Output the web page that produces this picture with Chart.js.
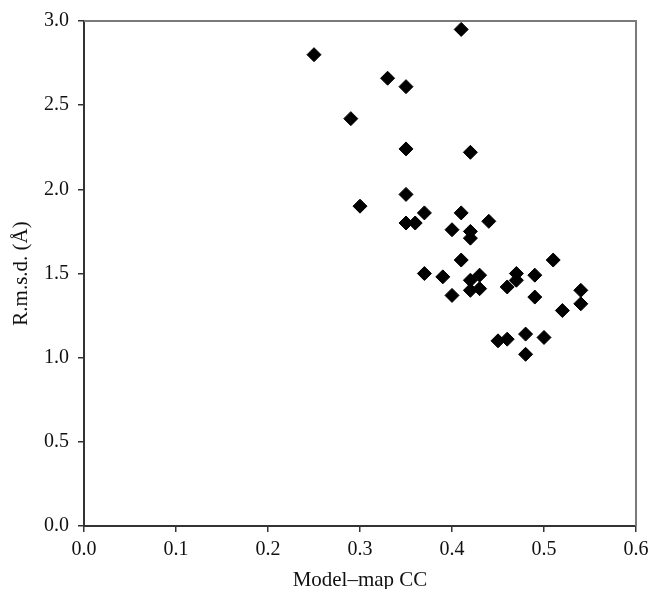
<!DOCTYPE html>
<html>
<head>
<meta charset="utf-8">
<script src="https://cdn.jsdelivr.net/npm/chart.js@4.4.1/dist/chart.umd.min.js"></script>
<style>
  html, body { margin: 0; padding: 0; background: #fff; }
  canvas { display: block; }
</style>
</head>
<body>
<canvas id="chart" width="649" height="589"></canvas>
<script>
// model-map correlation vs r.m.s.d.
const ccValues = [
  0.25, 0.41, 0.33, 0.35, 0.29, 0.35, 0.42, 0.35, 0.30, 0.37,
  0.35, 0.36, 0.41, 0.44, 0.40, 0.42, 0.42, 0.41, 0.37, 0.39,
  0.43, 0.42, 0.42, 0.43, 0.40, 0.47, 0.47, 0.46, 0.49, 0.51,
  0.49, 0.54, 0.54, 0.52, 0.45, 0.46, 0.48, 0.50, 0.48
];
const rmsdValues = [
  2.80, 2.95, 2.66, 2.61, 2.42, 2.24, 2.22, 1.97, 1.90, 1.86,
  1.80, 1.80, 1.86, 1.81, 1.76, 1.75, 1.71, 1.58, 1.50, 1.48,
  1.49, 1.46, 1.40, 1.41, 1.37, 1.50, 1.46, 1.42, 1.49, 1.58,
  1.36, 1.40, 1.32, 1.28, 1.10, 1.11, 1.14, 1.12, 1.02
];
const xTicks = [0, 0.1, 0.2, 0.3, 0.4, 0.5, 0.6];
const yTicks = [0, 0.5, 1.0, 1.5, 2.0, 2.5, 3.0];

const points = ccValues.map((x, i) => ({ x: x, y: rmsdValues[i] }));

const serif = "'Liberation Serif', 'Times New Roman', serif";

// grey frame on top and right like the original figure
const framePlugin = {
  id: "frame",
  afterDraw(chart) {
    const { ctx, chartArea } = chart;
    ctx.save();
    ctx.strokeStyle = "#7a7a7a";
    ctx.lineWidth = 2;
    ctx.beginPath();
    ctx.moveTo(chartArea.left, chartArea.top);
    ctx.lineTo(chartArea.right, chartArea.top);
    ctx.lineTo(chartArea.right, chartArea.bottom);
    ctx.stroke();
    ctx.restore();
  },
};

new Chart(document.getElementById("chart"), {
  type: "scatter",
  data: {
    datasets: [
      {
        data: points,
        pointStyle: "rectRot",
        pointRadius: 7,
        pointHoverRadius: 7,
        backgroundColor: "#000",
        borderColor: "#000",
        borderWidth: 1,
      },
    ],
  },
  options: {
    responsive: false,
    animation: false,
    events: [],
    layout: {
      padding: { top: 20, right: 0, left: 0, bottom: 0 },
    },
    plugins: {
      legend: { display: false },
      tooltip: { enabled: false },
    },
    scales: {
      x: {
        type: "linear",
        min: 0,
        max: 0.6,
        afterFit: (s) => {
          s.height = 63;
          s.paddingLeft = 0;
          s.paddingRight = 13;
        },
        afterBuildTicks: (s) => { s.ticks = xTicks.map((v) => ({ value: v })); },
        border: { display: true, color: "#333", width: 2 },
        grid: { drawOnChartArea: false, drawTicks: true, tickLength: 6, color: "#333", lineWidth: 1.5 },
        ticks: {
          padding: 6,
          color: "#111",
          font: { family: serif, size: 20 },
          callback: (v) => v.toFixed(1),
        },
        title: {
          display: true,
          text: "Model–map CC",
          color: "#111",
          font: { family: serif, size: 21 },
          padding: { top: 0, bottom: -4 },
        },
      },
      y: {
        type: "linear",
        min: 0,
        max: 3,
        afterFit: (s) => { s.width = 84; },
        afterBuildTicks: (s) => { s.ticks = yTicks.map((v) => ({ value: v })); },
        border: { display: true, color: "#333", width: 2 },
        grid: { drawOnChartArea: false, drawTicks: true, tickLength: 6, color: "#333", lineWidth: 1.5 },
        ticks: {
          padding: 9,
          color: "#111",
          font: { family: serif, size: 20 },
          callback: (v) => v.toFixed(1),
        },
        title: {
          display: true,
          text: "R.m.s.d. (Å)",
          color: "#111",
          font: { family: serif, size: 21 },
          padding: { top: 9, bottom: 0 },
        },
      },
    },
  },
  plugins: [framePlugin],
});
</script>
</body>
</html>
